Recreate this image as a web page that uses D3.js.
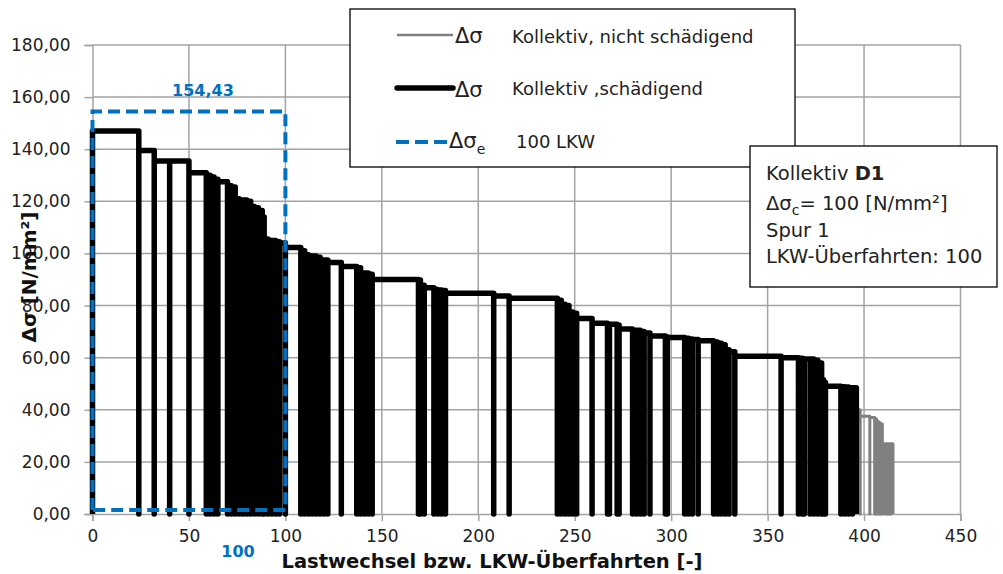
<!DOCTYPE html>
<html><head><meta charset="utf-8">
<script src="https://cdn.jsdelivr.net/npm/d3@7"></script>
<style>body{margin:0;background:#fff}svg{display:block;font-family:"DejaVu Sans",sans-serif}</style>
</head><body><svg id="c" width="1003" height="574"></svg>
<script>
const xTicks=[0,50,100,150,200,250,300,350,400,450];
const yTicks=[0,20,40,60,80,100,120,140,160,180];
// [start cycle, end cycle, stress range] – damaging part of the spectrum
const damagingSteps=[
[0,24,147],[24,32,139.5],[32,40,135.5],[40,50,135.5],[50,59,131],[59,61,130],[61,63,129.3],[63,65,128.5],
[65,70,127.5],[70,72,126],[72,74,125.5],[74,76,121],[76,78,120.5],[78,80,120.5],[80,82,120],[82,84,118],
[84,86,117.5],[86,88,116.5],[88,89,114],[89,91,105.5],[91,93,105],[93,95,105],[95,97,104.5],[97,100,104],
[100,108,102.3],[108,110,101],[110,112,99.5],[112,114,99],[114,116,99],[116,118,98.5],[118,120,97.5],[120,122,97.5],
[122,129,96.5],[129,137,95],[137,139,94.5],[139,141,92.5],[141,143,92.5],[143,145,92],[145,169,90],[169,170,89.8],
[170,172,87.8],[172,177,86.8],[177,179,86.2],[179,181,86],[181,183,85.8],[183,208,84.7],[208,216,83.7],[216,241,82.8],
[241,243,82],[243,245,80.5],[245,247,80],[247,249,77.5],[249,251,77],[251,259,75],[259,267,73.2],[267,268,72.8],
[268,272,72.8],[272,273,72.5],[273,280,71],[280,282,70.5],[282,284,70.5],[284,286,70],[286,289,69.5],[289,297,68.3],
[297,298,68],[298,307,67.7],[307,309,67.5],[309,311,67.2],[311,314,67],[314,322,66.5],[322,324,66],[324,326,65.5],
[326,328,65],[328,330,63],[330,333,62.3],[333,357,60.5],[357,366,60],[366,368,59.8],[368,369,59.6],[369,372,59.5],
[372,374,59.5],[374,376,59],[376,378,58],[378,379,51.5],[379,380,50.5],[380,388,49],[388,390,48.8],[390,392,48.7],
[392,394,48.5],[394,396,48.5]
];
// non-damaging part
const nonDamagingSteps=[
[396,398,40],[398,403,37.5],[403,405.5,37],[405.5,406.5,36.5],[406.5,407.5,35.5],[407.5,408.5,35],[408.5,409.5,34.5],
[409.5,411,27],[411,412,27],[412,413,27],[413,414,27],[414,415,27]
];
const equivCycles=100, equivRange=154.43, equivBase=1.5;
const legendLabels=["Kollektiv, nicht schädigend","Kollektiv ,schädigend","100 LKW"];

const svg=d3.select("#c");
const FONT='"DejaVu Sans",sans-serif';
const x=d3.scaleLinear().domain([0,450]).range([92.5,960.5]);
const y=d3.scaleLinear().domain([0,180]).range([514,45]);
const GRID="#a3a3a3";

// grid
const grid=svg.append("g");
grid.selectAll("line.v").data(xTicks.slice(1)).join("line").attr("class","v")
 .attr("x1",d=>x(d)).attr("x2",d=>x(d)).attr("y1",y(0)).attr("y2",y(180))
 .attr("stroke",GRID).attr("stroke-width",1.5);
grid.selectAll("line.h").data(yTicks.slice(1)).join("line").attr("class","h")
 .attr("x1",x(0)).attr("x2",x(450)).attr("y1",d=>y(d)).attr("y2",d=>y(d))
 .attr("stroke",GRID).attr("stroke-width",1.5);

// axes
const fmt=d=>d.toFixed(2).replace(".",",");
const ay=svg.append("g").attr("transform",`translate(${x(0)},0)`)
 .call(d3.axisLeft(y).tickValues(yTicks).tickSize(8).tickPadding(14).tickFormat(fmt));
const ax=svg.append("g").attr("transform",`translate(0,${y(0)})`)
 .call(d3.axisBottom(x).tickValues(xTicks).tickSize(7).tickPadding(9).tickFormat(d3.format("d")));
[ax,ay].forEach(g=>{
 g.attr("font-family",FONT).attr("font-size",17);
 g.select(".domain").attr("stroke",GRID).attr("stroke-width",1.5);
 g.selectAll(".tick line").attr("stroke",GRID).attr("stroke-width",1.5);
 g.selectAll(".tick text").attr("fill","#222");
});

// series
const toPts=steps=>steps.flatMap(([a,b,v])=>[[a,0],[a,v],[b,v],[b,0]]);
const line=d3.line().x(d=>x(d[0])).y(d=>y(d[1]));
svg.append("path").attr("d",line(toPts(nonDamagingSteps))).attr("fill","none")
 .attr("stroke","#808080").attr("stroke-width",3).attr("stroke-linejoin","round");
svg.append("path").attr("d",line(toPts(damagingSteps))).attr("fill","none")
 .attr("stroke","#000").attr("stroke-width",5.5).attr("stroke-linejoin","round");

// equivalent rectangle
const rect=[[0,equivBase],[0,equivRange],[equivCycles,equivRange],[equivCycles,equivBase],[0,equivBase]];
svg.append("path").attr("d",line(rect)).attr("fill","none").attr("stroke","#0070C0")
 .attr("stroke-width",4).attr("stroke-dasharray","12,6");
svg.append("text").attr("x",x(equivCycles/2)+14).attr("y",y(equivRange)-16).attr("text-anchor","middle")
 .attr("font-family",FONT).attr("font-weight","bold").attr("font-size",16).attr("fill","#0070C0")
 .text(fmt(equivRange));
svg.append("text").attr("x",238).attr("y",557).attr("text-anchor","middle")
 .attr("font-family",FONT).attr("font-weight","bold").attr("font-size",16).attr("fill","#0070C0")
 .text(equivCycles);

// axis titles
svg.append("text").attr("x",492).attr("y",568).attr("text-anchor","middle")
 .attr("font-family",FONT).attr("font-weight","bold").attr("font-size",19.5).attr("fill","#111")
 .text("Lastwechsel bzw. LKW-Überfahrten [-]");
svg.append("text").attr("transform","translate(36,277) rotate(-90)").attr("text-anchor","middle")
 .attr("font-family",FONT).attr("font-weight","bold").attr("font-size",20).attr("fill","#111")
 .text("Δσ [N/mm²]");

// legend
const lg=svg.append("g");
lg.append("rect").attr("x",350).attr("y",9).attr("width",445).attr("height",158)
 .attr("fill","#fff").attr("stroke","#000").attr("stroke-width",1.3);
lg.append("line").attr("x1",397).attr("x2",453).attr("y1",35).attr("y2",35).attr("stroke","#808080").attr("stroke-width",2.5);
lg.append("line").attr("x1",397).attr("x2",453).attr("y1",88).attr("y2",88).attr("stroke","#000").attr("stroke-width",5.5).attr("stroke-linecap","round");
lg.append("line").attr("x1",396).attr("x2",450).attr("y1",142).attr("y2",142).attr("stroke","#0070C0").attr("stroke-width",4).attr("stroke-dasharray","13,6");
const sym=[[455,43],[455,97],[449,148]];
sym.forEach(([sx,sy],i)=>{
 const t=lg.append("text").attr("x",sx).attr("y",sy).attr("font-family",FONT).attr("font-size",21).attr("fill","#222").text("Δσ");
 if(i===2) t.append("tspan").attr("dy",6).attr("font-size",14).text("e");
});
const lt=[[512,43],[512,95],[516,148]];
legendLabels.forEach((s,i)=>lg.append("text").attr("x",lt[i][0]).attr("y",lt[i][1])
 .attr("font-family",FONT).attr("font-size",18).attr("fill","#222").text(s));

// info box
const ib=svg.append("g");
ib.append("rect").attr("x",750).attr("y",146).attr("width",247).attr("height",141)
 .attr("fill","#fff").attr("stroke","#000").attr("stroke-width",1.3);
const FS=19.5;
const t1=ib.append("text").attr("x",766).attr("y",180).attr("font-family",FONT).attr("font-size",FS).attr("fill","#222");
t1.append("tspan").text("Kollektiv ");
t1.append("tspan").attr("font-weight","bold").text("D1");
const t2=ib.append("text").attr("x",766).attr("y",210).attr("font-family",FONT).attr("font-size",FS).attr("fill","#222");
t2.append("tspan").text("Δσ");
t2.append("tspan").attr("dy",5).attr("font-size",14).text("c");
t2.append("tspan").attr("dy",-5).text("= 100 [N/mm²]");
ib.append("text").attr("x",766).attr("y",237).attr("font-family",FONT).attr("font-size",FS).attr("fill","#222").text("Spur 1");
ib.append("text").attr("x",766).attr("y",263).attr("font-family",FONT).attr("font-size",FS).attr("fill","#222").text("LKW-Überfahrten: 100");
</script></body></html>
